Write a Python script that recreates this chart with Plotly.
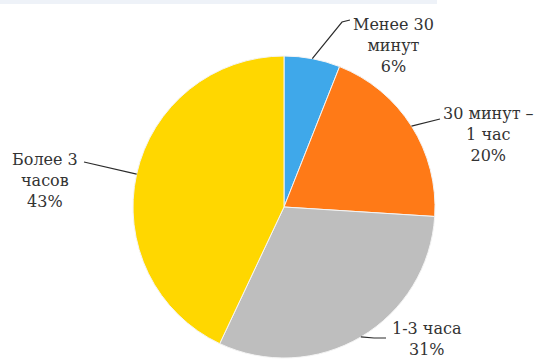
import math
import plotly.graph_objects as go

# Time spent per day
labels = ["Менее 30<br>минут", "30 минут –<br>1 час", "1-3 часа", "Более 3<br>часов"]
values = [6, 20, 31, 43]
colors = ["#3FA8EA", "#FF7A17", "#BEBEBE", "#FFD700"]

W, H = 545, 361
cx, cy, r = 284, 207, 151  # pie centre and radius in pixels

fig = go.Figure(go.Pie(
    labels=labels,
    values=values,
    sort=False,
    direction="clockwise",
    rotation=0,
    marker=dict(colors=colors, line=dict(color="#F4F4F4", width=1)),
    textinfo="none",
    hoverinfo="label+percent",
    domain=dict(x=[(cx - r) / W, (cx + r) / W], y=[1 - (cy + r) / H, 1 - (cy - r) / H]),
    showlegend=False,
))


def px(x, y):
    return x / W, 1 - y / H


# thin pale band along the top edge
fig.add_shape(type="rect", xref="paper", yref="paper",
              x0=0, x1=437 / W, y0=1 - 4 / H, y1=1,
              line=dict(width=0), fillcolor="#EEF2F8", layer="below")

# label placement (text centre) and elbow points of the leader lines, in pixels
label_pos = [(393, 45), (488, 134), (427, 339), (45, 180)]
elbows = [
    [(342, 22), (350, 20)],
    [(440, 119)],
    [(374, 338), (386, 338)],
    [(84, 162)],
]

total = sum(values)
cum = 0
for lab, v, (tx, ty), elb in zip(labels, values, label_pos, elbows):
    mid = (cum + v / 2) / total * 2 * math.pi
    cum += v
    sx = cx + r * math.sin(mid)
    sy = cy - r * math.cos(mid)
    pts = [(sx, sy)] + elb
    path = "M " + " L ".join(f"{px(x, y)[0]:.5f},{px(x, y)[1]:.5f}" for x, y in pts)
    fig.add_shape(type="path", path=path, xref="paper", yref="paper",
                  line=dict(color="#2B2B2B", width=1.2))
    fig.add_annotation(
        x=px(tx, ty)[0], y=px(tx, ty)[1], xref="paper", yref="paper",
        text=f"{lab}<br>{v}%", showarrow=False, align="center",
        font=dict(family="DejaVu Serif", size=16, color="#333333"),
        xanchor="center", yanchor="middle",
    )

fig.update_layout(
    width=W, height=H,
    margin=dict(l=0, r=0, t=0, b=0),
    paper_bgcolor="white",
    plot_bgcolor="white",
)

fig.write_html("out.html")
